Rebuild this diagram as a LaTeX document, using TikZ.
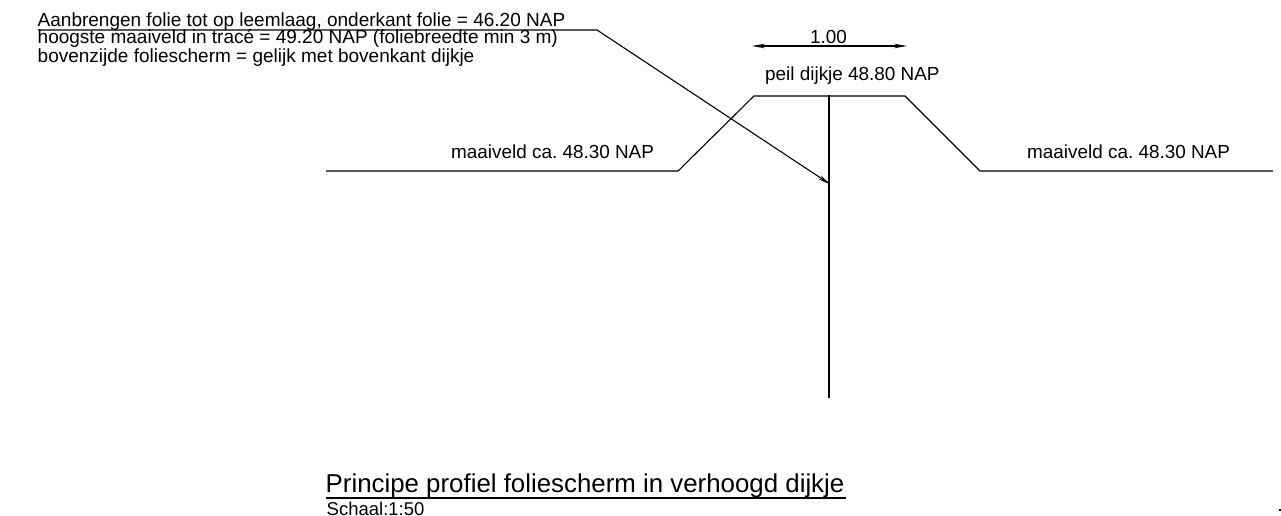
\documentclass[tikz,border=0pt]{standalone}
\usepackage{fontspec}
\setmainfont{Liberation Sans}
\usetikzlibrary{arrows.meta}
\frenchspacing

\tikzset{
    txt/.style={anchor=base west,inner sep=0pt,font=\fontsize{18.9}{18.9}\selectfont},
    note/.style={txt,font=\fontsize{19}{19}\selectfont},
    line/.style={line width=1.1pt,black},
    wall/.style={line width=2pt,black},
    tip/.style={-{Stealth[length=13pt,width=4.5pt]}},
}

\begin{document}
\begin{tikzpicture}[x=1pt,y=-1pt]
    \useasboundingbox (0,0) rectangle (1281,516);

    \coordinate (leaderstart) at (38,30);
    \coordinate (leaderbend) at (597,30);
    \coordinate (leaderend) at (830.5,184.5);
    \coordinate (groundleft) at (326,171);
    \coordinate (toeleft) at (678,171);
    \coordinate (crestleft) at (754,96);
    \coordinate (crestright) at (905,96);
    \coordinate (toeright) at (980,171);
    \coordinate (groundright) at (1273,171);
    \coordinate (screentop) at (829,95);
    \coordinate (screenbottom) at (829,398);
    \coordinate (dimleft) at (752,46);
    \coordinate (dimright) at (907,46);
    \coordinate (titleleft) at (326,497.5);
    \coordinate (titleright) at (846,497.5);
    \coordinate (tickleft) at (1279,510);
    \coordinate (tickright) at (1281,510);

    \node[note] (note1) at (37.5,26.5) {Aanbrengen folie tot op leemlaag, onderkant folie = 46.20 NAP};
    \node[note] (note2) at (37.5,44) {hoogste maaiveld in tracé = 49.20 NAP (foliebreedte min 3 m)};
    \node[note] (note3) at (37.5,62.2) {bovenzijde foliescherm = gelijk met bovenkant dijkje};
    \node[txt] (width) at (810,43.3) {1.00};
    \node[txt] (crestlabel) at (765,80.7) {peil dijkje 48.80 NAP};
    \node[txt] (leftlabel) at (451,158) {maaiveld ca. 48.30 NAP};
    \node[txt] (rightlabel) at (1027,158) {maaiveld ca. 48.30 NAP};
    \node[txt,font=\fontsize{25.85}{25.85}\selectfont] (title) at (325.5,492) {Principe profiel foliescherm in verhoogd dijkje};
    \node[txt,font=\fontsize{18.5}{18.5}\selectfont] (scale) at (326.5,515.5) {Schaal:1:50};

    \draw[line] (groundleft) -- (toeleft) -- (crestleft) -- (crestright) -- (toeright) -- (groundright);
    \draw[wall] (screentop) -- (screenbottom);
    \draw[line,tip] (leaderstart) -- (leaderbend) -- (leaderend);
    \draw[line,{Stealth[length=13pt,width=4.5pt]}-{Stealth[length=13pt,width=4.5pt]}] (dimleft) -- (dimright);
    \draw[wall] (titleleft) -- (titleright);
    \draw[wall] (tickleft) -- (tickright);

\end{tikzpicture}
\end{document}
